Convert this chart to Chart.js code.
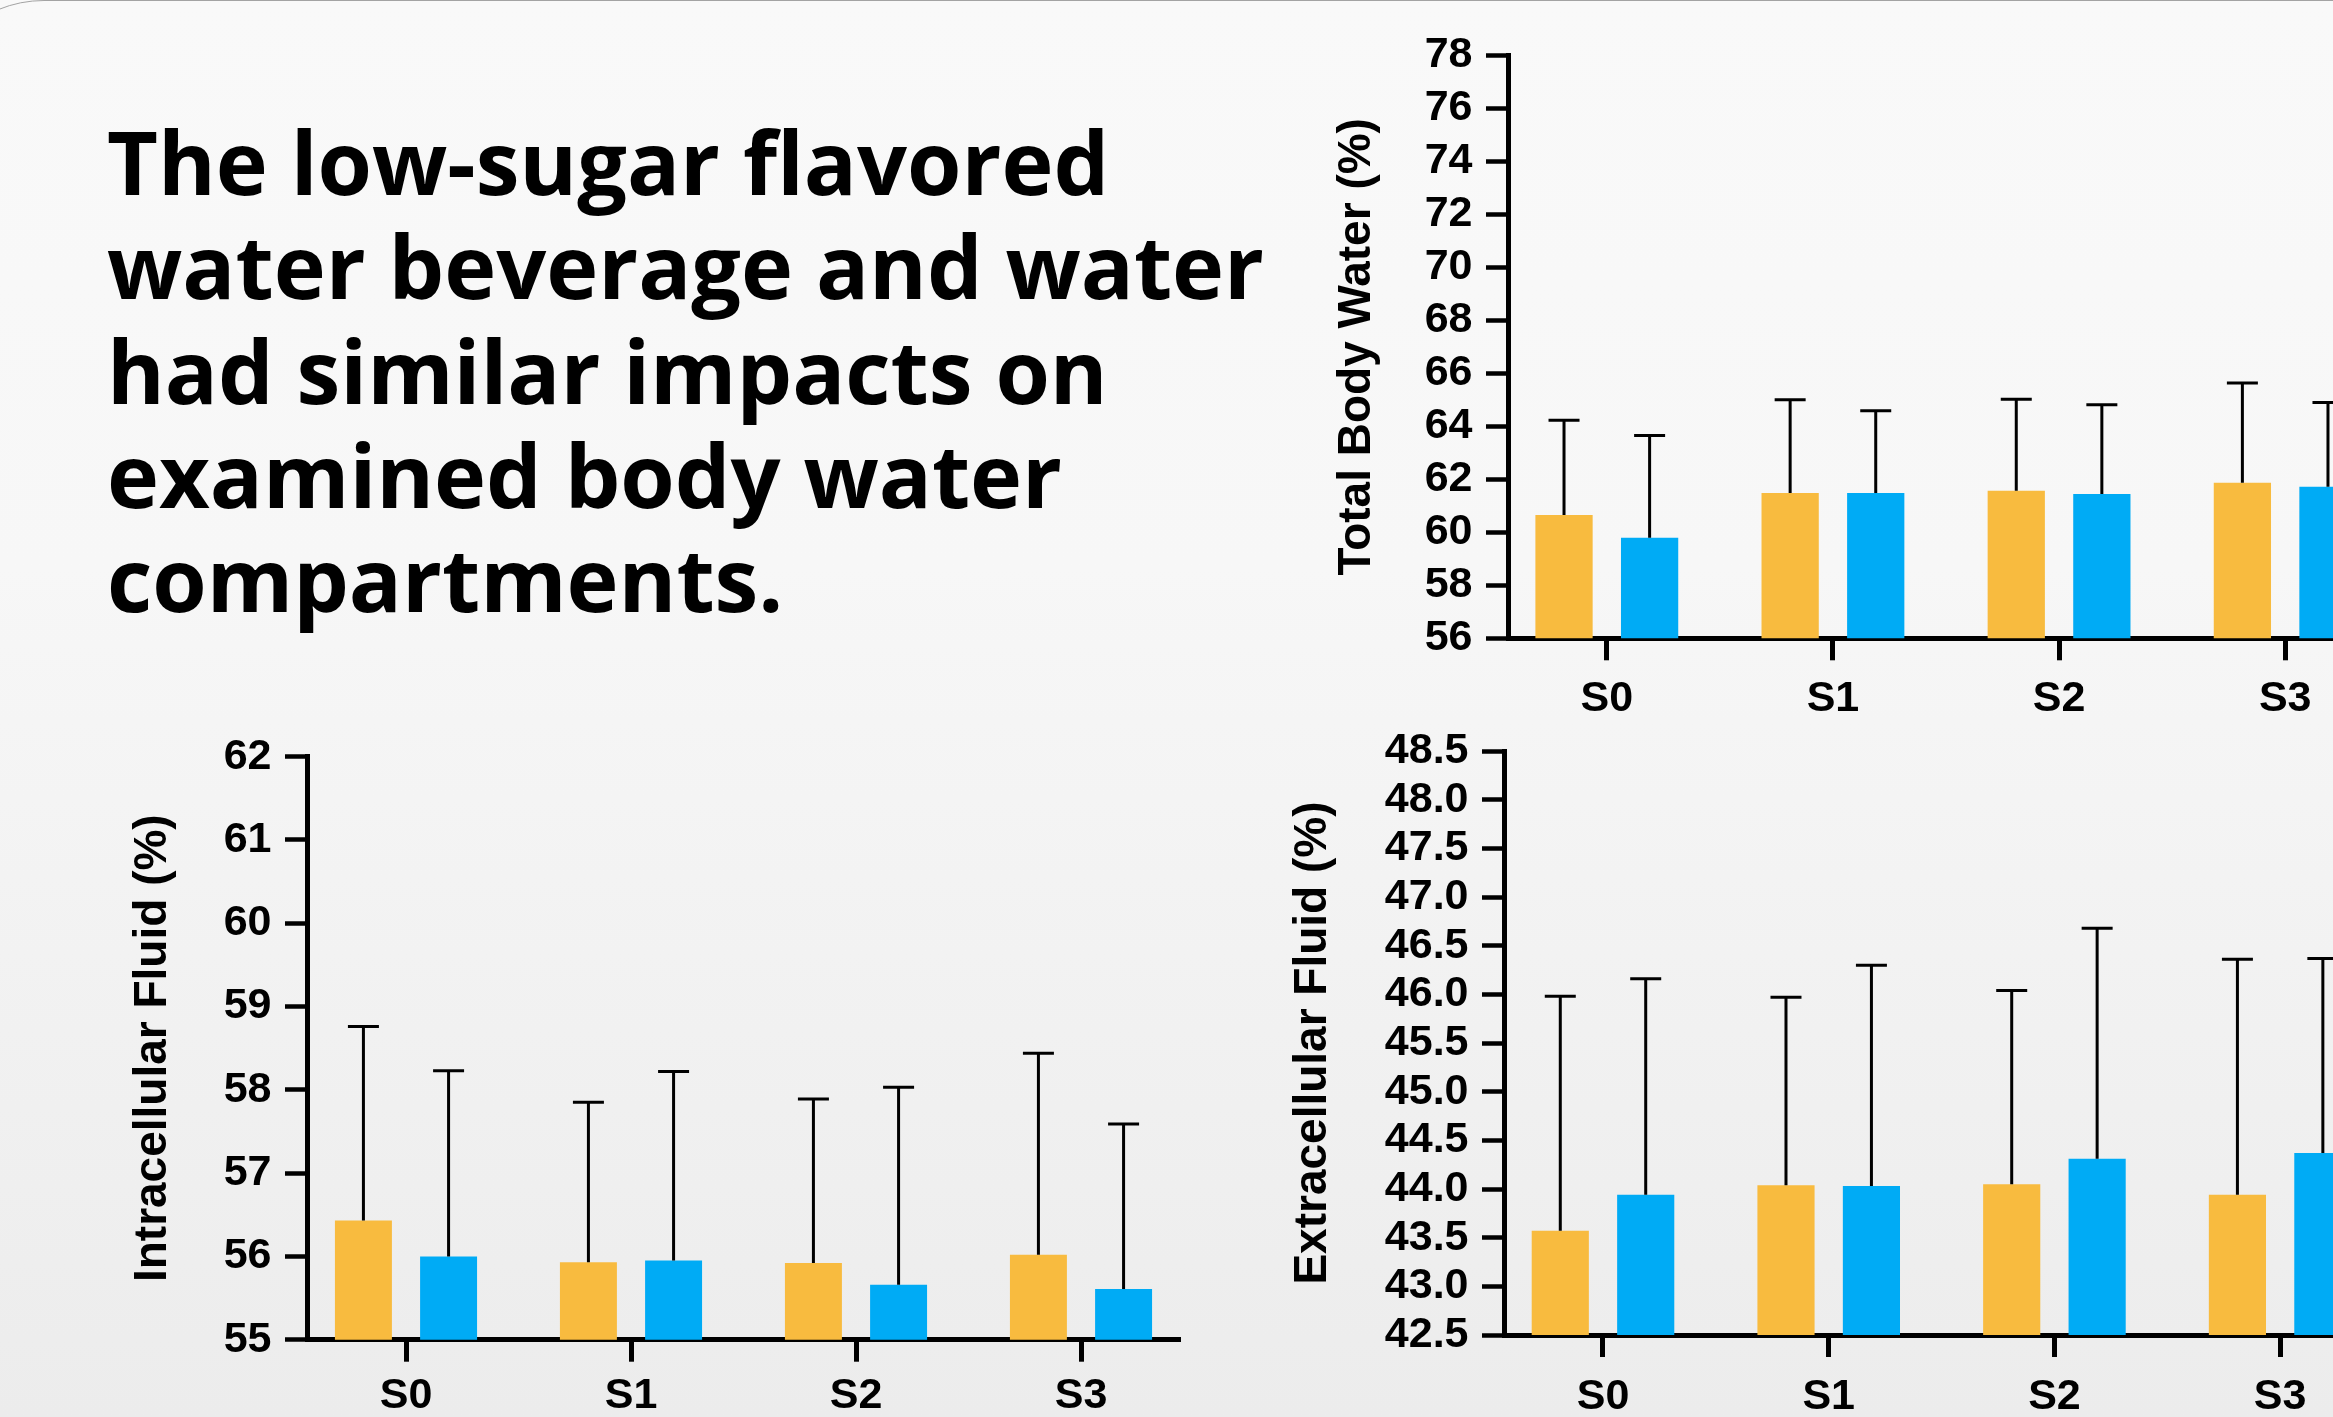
<!DOCTYPE html>
<html>
<head>
<meta charset="utf-8">
<title>Body water compartments</title>
<script src="https://cdn.jsdelivr.net/npm/chart.js@4.4.1/dist/chart.umd.min.js"></script>
<style>
  html, body { margin: 0; padding: 0; width: 2333px; height: 1417px; overflow: hidden; }
  body {
    position: relative;
    background: linear-gradient(to bottom, #f9f9f9 0%, #f7f7f7 40%, #ececec 100%);
  }
  .frame {
    position: absolute; left: -76px; top: 0; width: 3000px; height: 3000px;
    border: 1.5px solid #a3a3a3; border-radius: 120px; box-sizing: border-box;
  }
  .headline {
    position: absolute; left: 107px; top: 109px; margin: 0;
    font: 700 88px/104.3px "Open Sans", "Noto Sans", sans-serif;
    color: #000; white-space: nowrap;
  }
  canvas { position: absolute; }
</style>
</head>
<body>
<div class="frame"></div>
<h1 class="headline">The low-sugar flavored<br>water beverage and water<br>had similar impacts on<br>examined body water<br>compartments.</h1>
<canvas id="tbw"></canvas>
<canvas id="icf"></canvas>
<canvas id="ecf"></canvas>
<script>
// Measurement sessions
const sessions = ['S0', 'S1', 'S2', 'S3'];
const seriesNames = ['Low-sugar flavored water beverage', 'Water'];

// Total body water (%), mean and SD
const tbwBeverage   = [60.65, 61.48, 61.57, 61.87];
const tbwBeverageSD = [3.58, 3.52, 3.45, 3.76];
const tbwWater      = [59.79, 61.48, 61.45, 61.72];
const tbwWaterSD    = [3.86, 3.11, 3.36, 3.18];
const tbwTicks = [56, 58, 60, 62, 64, 66, 68, 70, 72, 74, 76, 78];

// Intracellular fluid (%), mean and SD
const icfBeverage   = [56.43, 55.93, 55.92, 56.02];
const icfBeverageSD = [2.33, 1.92, 1.97, 2.42];
const icfWater      = [56.00, 55.95, 55.66, 55.61];
const icfWaterSD    = [2.23, 2.27, 2.37, 1.98];
const icfTicks = [55, 56, 57, 58, 59, 60, 61, 62];

// Extracellular fluid (%), mean and SD
const ecfBeverage   = [43.57, 44.04, 44.05, 43.94];
const ecfBeverageSD = [2.41, 1.93, 1.99, 2.42];
const ecfWater      = [43.94, 44.03, 44.31, 44.37];
const ecfWaterSD    = [2.22, 2.27, 2.37, 2.00];
const ecfTicks = [42.5, 43.0, 43.5, 44.0, 44.5, 45.0, 45.5, 46.0, 46.5, 47.0, 47.5, 48.0, 48.5];

const BEVERAGE_COLOR = '#F8BB3F';
const WATER_COLOR = '#00ABF5';

Chart.defaults.font.family = '"Liberation Sans", Arial, Helvetica, sans-serif';
Chart.defaults.font.weight = 'bold';
Chart.defaults.color = '#000';

// Upper SD whiskers with a cap, drawn from each bar top
const sdWhiskers = {
  id: 'sdWhiskers',
  afterDatasetsDraw(chart, args, opts) {
    const { ctx } = chart;
    const y = chart.scales.y;
    ctx.save();
    ctx.strokeStyle = '#000';
    ctx.lineWidth = opts.width;
    ctx.lineCap = 'butt';
    chart.data.datasets.forEach((ds, di) => {
      const meta = chart.getDatasetMeta(di);
      meta.data.forEach((bar, i) => {
        const top = y.getPixelForValue(ds.data[i].y + ds.sd[i]);
        ctx.beginPath();
        ctx.moveTo(bar.x, bar.y);
        ctx.lineTo(bar.x, top);
        ctx.moveTo(bar.x - opts.cap / 2, top);
        ctx.lineTo(bar.x + opts.cap / 2, top);
        ctx.stroke();
      });
    });
    ctx.restore();
  }
};

function toPoints(values) {
  return values.map((v, i) => ({ x: i, y: v }));
}

function panel(cfg) {
  const canvas = document.getElementById(cfg.id);
  canvas.width = cfg.box.w;
  canvas.height = cfg.box.h;
  canvas.style.left = cfg.box.x + 'px';
  canvas.style.top = cfg.box.y + 'px';
  canvas.style.width = cfg.box.w + 'px';
  canvas.style.height = cfg.box.h + 'px';

  const area = cfg.area;
  const yTicks = cfg.yTicks;

  return new Chart(canvas, {
    type: 'bar',
    data: {
      datasets: [
        {
          label: seriesNames[0],
          data: toPoints(cfg.beverage),
          sd: cfg.beverageSD,
          backgroundColor: BEVERAGE_COLOR,
          borderWidth: 0,
          categoryPercentage: 0.757,
          barPercentage: 0.669
        },
        {
          label: seriesNames[1],
          data: toPoints(cfg.water),
          sd: cfg.waterSD,
          backgroundColor: WATER_COLOR,
          borderWidth: 0,
          categoryPercentage: 0.757,
          barPercentage: 0.669
        }
      ]
    },
    options: {
      responsive: false,
      devicePixelRatio: 1,
      animation: false,
      events: [],
      layout: {
        padding: {
          left: 0,
          top: area.top - cfg.box.y,
          right: cfg.box.x + cfg.box.w - area.right,
          bottom: 0
        }
      },
      plugins: {
        legend: { display: false },
        tooltip: { enabled: false },
        sdWhiskers: { width: 3, cap: 31 }
      },
      scales: {
        x: {
          type: 'linear',
          min: cfg.xMin,
          max: cfg.xMax,
          offset: false,
          z: 1,
          afterBuildTicks: s => { s.ticks = sessions.map((_, i) => ({ value: i })); },
          afterFit: s => { s.height = cfg.box.y + cfg.box.h - area.bottom; },
          grid: {
            display: true, offset: false, drawOnChartArea: false, drawTicks: true,
            tickLength: 22, tickWidth: 5, tickColor: '#000'
          },
          border: { display: true, color: '#000', width: 5 },
          ticks: {
            autoSkip: false, maxRotation: 0, padding: cfg.xPad,
            font: { size: 43, weight: 'bold', lineHeight: 1 },
            callback: v => sessions[v]
          }
        },
        y: {
          type: 'linear',
          min: yTicks[0],
          max: yTicks[yTicks.length - 1],
          z: 1,
          afterBuildTicks: s => { s.ticks = yTicks.map(v => ({ value: v })); },
          afterFit: s => { s.width = area.left - cfg.box.x; },
          grid: {
            display: true, drawOnChartArea: false, drawTicks: true,
            tickLength: 22, tickWidth: 4.5, tickColor: '#000'
          },
          border: { display: true, color: '#000', width: 5 },
          ticks: {
            padding: 13.5,
            font: { size: 43, weight: 'bold', lineHeight: 1 },
            callback: v => Number(v).toFixed(cfg.decimals)
          },
          title: {
            display: true,
            text: cfg.title,
            font: { size: 46, weight: 'bold', lineHeight: 1 },
            padding: { top: cfg.titleGap, bottom: 0 }
          }
        }
      }
    },
    plugins: [sdWhiskers]
  });
}

panel({
  id: 'tbw', title: 'Total Body Water (%)',
  box: { x: 1290, y: 0, w: 1130, h: 740 },
  area: { left: 1508, top: 55.3, right: 2384, bottom: 638.3 },
  xMin: -0.437, xMax: 3.437, xPad: 17, decimals: 0, titleGap: 44.5,
  yTicks: tbwTicks,
  beverage: tbwBeverage, beverageSD: tbwBeverageSD,
  water: tbwWater, waterSD: tbwWaterSD
});

panel({
  id: 'icf', title: 'Intracellular Fluid (%)',
  box: { x: 90, y: 700, w: 1140, h: 717 },
  area: { left: 307, top: 756.7, right: 1180, bottom: 1339.7 },
  xMin: -0.44, xMax: 3.44, xPad: 13, decimals: 0, titleGap: 40,
  yTicks: icfTicks,
  beverage: icfBeverage, beverageSD: icfBeverageSD,
  water: icfWater, waterSD: icfWaterSD
});

panel({
  id: 'ecf', title: 'Extracellular Fluid (%)',
  box: { x: 1240, y: 700, w: 1180, h: 717 },
  area: { left: 1504, top: 751.1, right: 2379, bottom: 1335 },
  xMin: -0.4386, xMax: 3.438, xPad: 19, decimals: 1, titleGap: 50.5,
  yTicks: ecfTicks,
  beverage: ecfBeverage, beverageSD: ecfBeverageSD,
  water: ecfWater, waterSD: ecfWaterSD
});
</script>
</body>
</html>
